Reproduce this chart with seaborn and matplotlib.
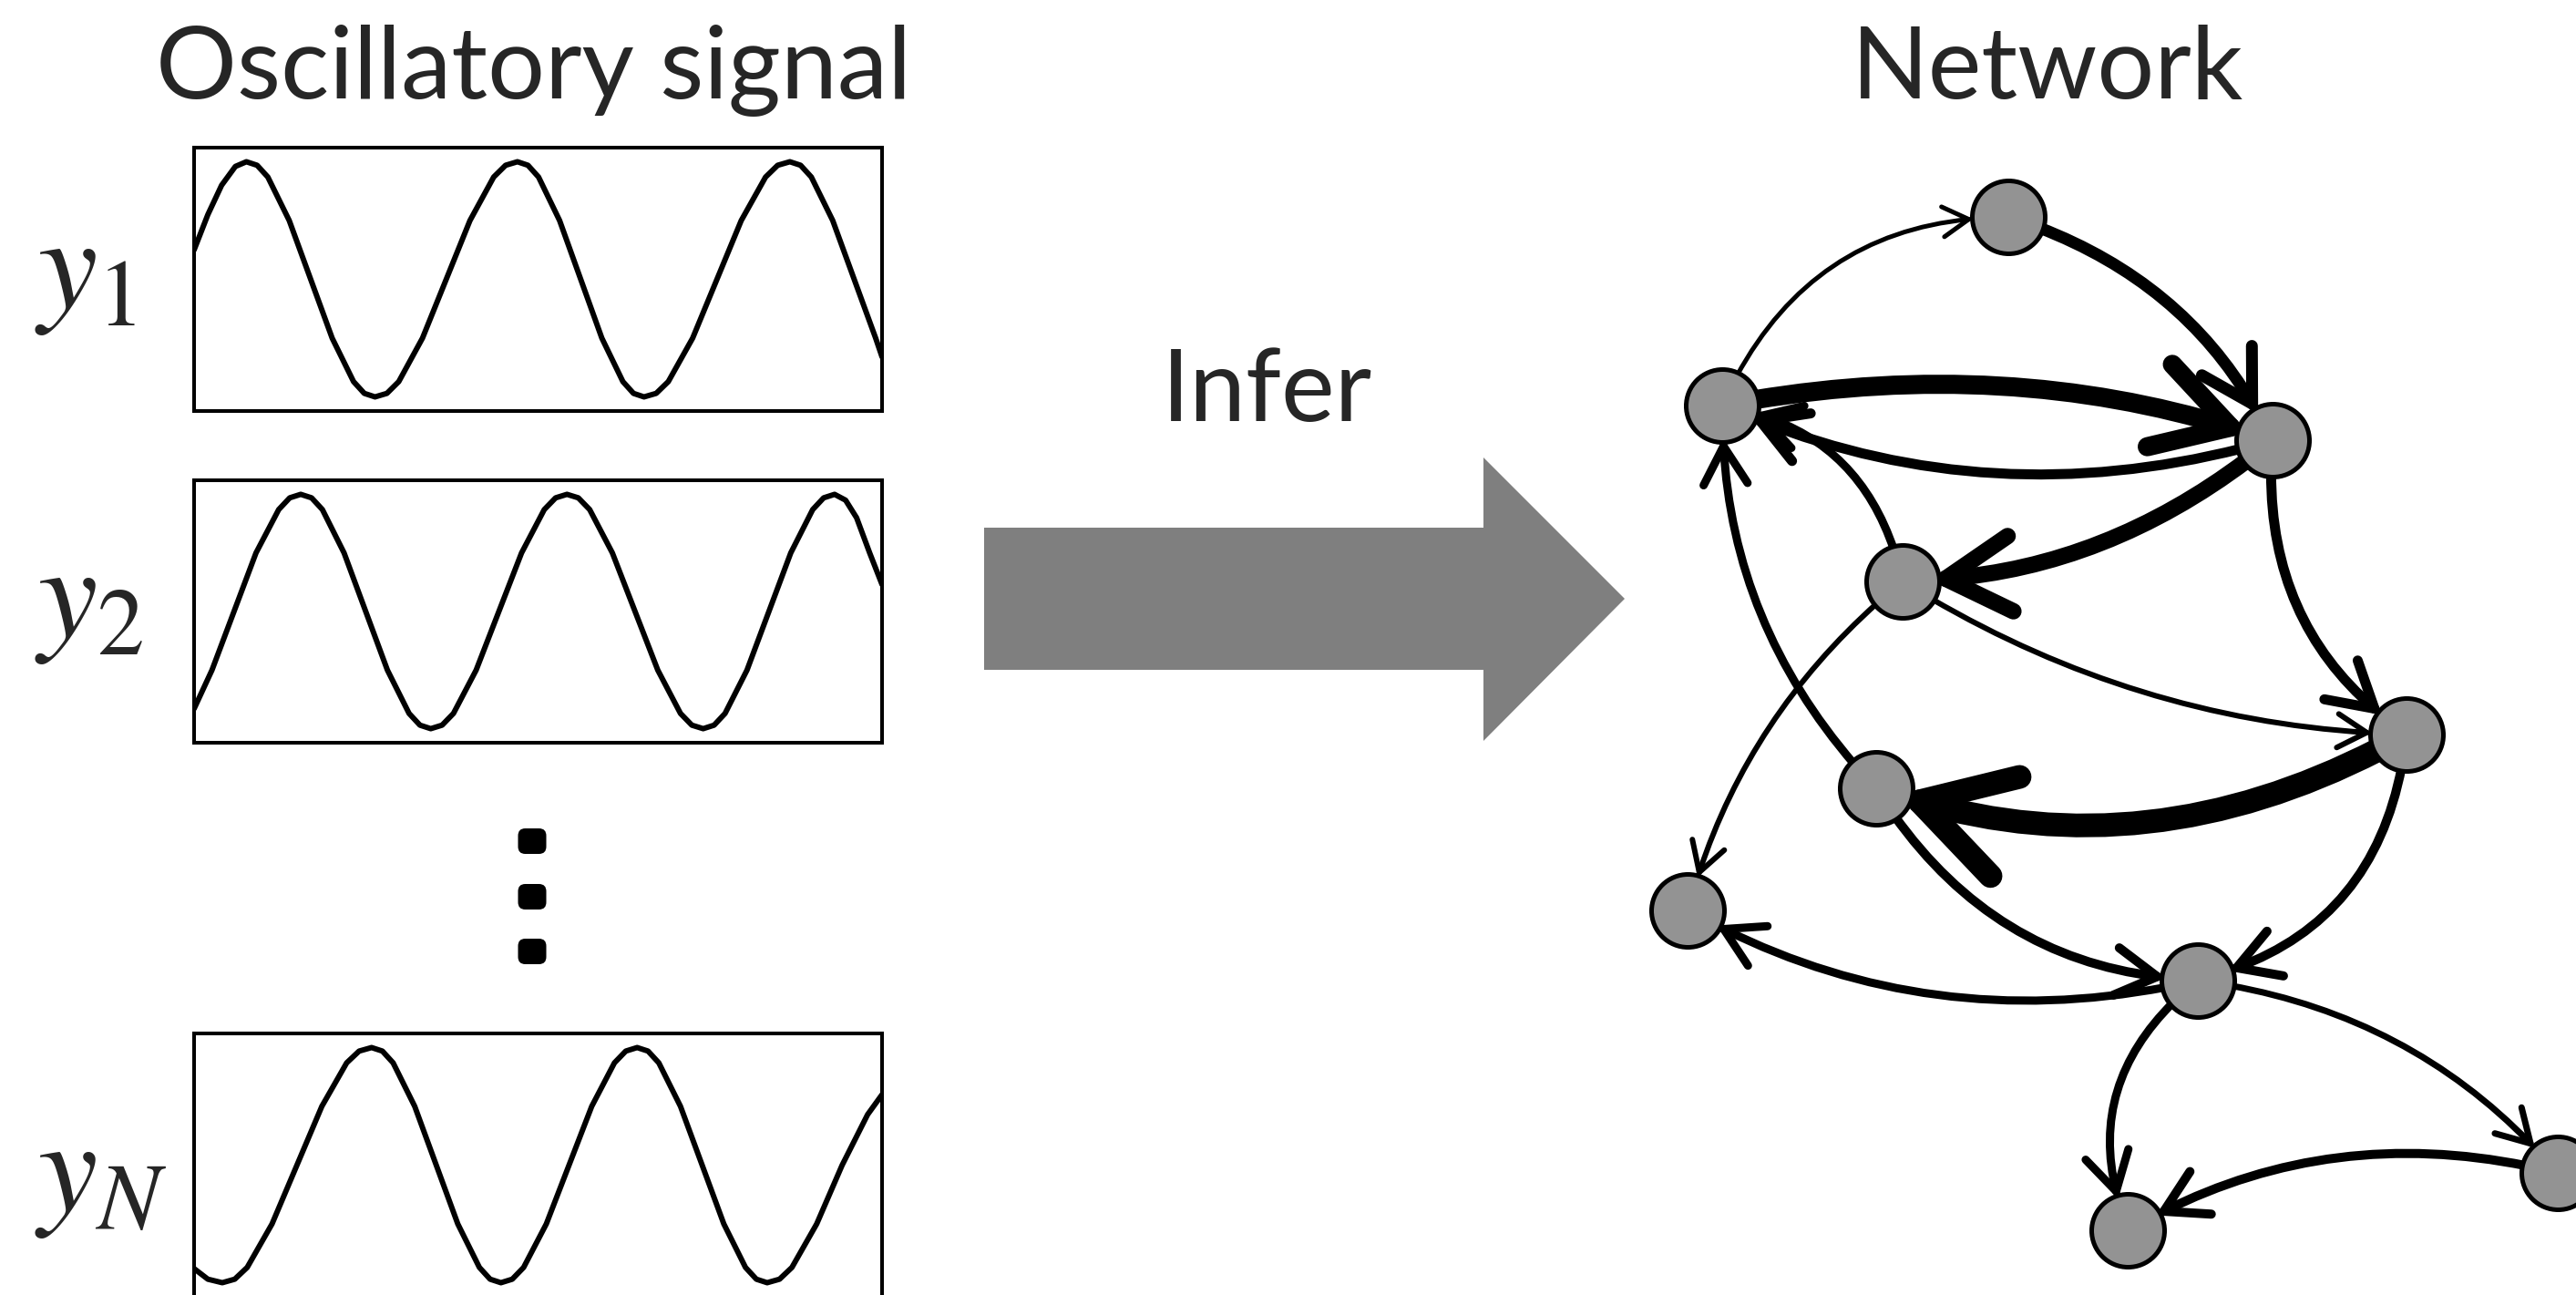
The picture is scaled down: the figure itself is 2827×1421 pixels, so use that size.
import matplotlib
matplotlib.use("Agg")
import matplotlib.pyplot as plt
import pandas as pd
import seaborn as sns
from matplotlib.patches import FancyArrowPatch, Polygon, FancyBboxPatch

W, H = 2827, 1421

# --- oscillatory signals (time 0-100 across the panel, normalised amplitude) ---
y1_t = [0, 2.0, 4.0, 6.0, 7.6,
        9.16, 10.72, 13.83, 16.95, 20.07, 23.18, 24.74, 26.3,
        28.03, 29.75, 33.2, 36.65, 40.1, 43.55, 45.28, 47.0,
        48.53, 50.07, 53.13, 56.2, 59.27, 62.33, 63.87, 65.4,
        67.17, 68.93, 72.47, 76.0, 79.53, 83.07, 84.83, 86.6,
        88.16, 89.72, 92.83, 95.95, 99.07, 100]
y1_v = [0.25, 0.55, 0.80, 0.96, 1.0,
        0.97, 0.87, 0.5, 0.0, -0.5, -0.87, -0.97, -1.0,
        -0.97, -0.87, -0.5, 0.0, 0.5, 0.87, 0.97, 1.0,
        0.97, 0.87, 0.5, 0.0, -0.5, -0.87, -0.97, -1.0,
        -0.97, -0.87, -0.5, 0.0, 0.5, 0.87, 0.97, 1.0,
        0.97, 0.87, 0.5, 0.0, -0.5, -0.66]

y2_t = [0, 2.6, 5.8, 9.0, 12.3, 13.9, 15.5,
        17.08, 18.65, 21.8, 24.95, 28.1, 31.25, 32.83, 34.4,
        36.05, 37.7, 41.0, 44.3, 47.6, 50.9, 52.55, 54.2,
        55.85, 57.5, 60.8, 64.1, 67.4, 70.7, 72.35, 74.0,
        75.59, 77.18, 80.37, 83.55, 86.73, 89.92, 91.51, 93.1,
        94.7, 96.3, 98.2, 100]
y2_v = [-0.83, -0.5, 0.0, 0.5, 0.87, 0.97, 1.0,
        0.97, 0.87, 0.5, 0.0, -0.5, -0.87, -0.97, -1.0,
        -0.97, -0.87, -0.5, 0.0, 0.5, 0.87, 0.97, 1.0,
        0.97, 0.87, 0.5, 0.0, -0.5, -0.87, -0.97, -1.0,
        -0.97, -0.87, -0.5, 0.0, 0.5, 0.87, 0.97, 1.0,
        0.95, 0.8, 0.5, 0.23]

yN_t = [0, 2.0, 4.1,
        5.91, 7.72, 11.33, 14.95, 18.57, 22.18, 23.99, 25.8,
        27.37, 28.93, 32.07, 35.2, 38.33, 41.47, 43.03, 44.6,
        46.25, 47.9, 51.2, 54.5, 57.8, 61.1, 62.75, 64.4,
        65.98, 67.55, 70.7, 73.85, 77.0, 80.15, 81.73, 83.3,
        85.1, 86.9, 90.5, 94.2, 97.9, 100]
yN_v = [-0.88, -0.97, -1.0,
        -0.97, -0.87, -0.5, 0.0, 0.5, 0.87, 0.97, 1.0,
        0.97, 0.87, 0.5, 0.0, -0.5, -0.87, -0.97, -1.0,
        -0.97, -0.87, -0.5, 0.0, 0.5, 0.87, 0.97, 1.0,
        0.97, 0.87, 0.5, 0.0, -0.5, -0.87, -0.97, -1.0,
        -0.97, -0.87, -0.5, 0.0, 0.43, 0.6]

signal_labels = [r"$y_1$", r"$y_2$", r"$y_N$"]

# --- network (pixel coordinates of the picture) ---
node_x = [2204, 1890, 2494, 2088, 2641, 2059, 1852, 2412, 2807, 2335]
node_y = [238, 445, 483, 638, 806, 865, 999, 1076, 1287, 1350]
# node index: 0 A top, 1 B, 2 C, 3 D, 4 E, 5 F, 6 G, 7 H, 8 I, 9 J
edge_src = [1, 0, 1, 2, 3, 5, 2, 3, 2, 3, 4, 5, 4, 7, 7, 7, 8]
edge_dst = [0, 2, 2, 1, 1, 1, 3, 4, 4, 6, 5, 7, 7, 6, 9, 8, 9]
edge_width = [5, 13, 21, 11, 9, 9, 18, 6, 11, 6, 26, 10, 10, 9, 9, 7, 10]  # px
edge_rad = [-0.32, -0.21, -0.13, -0.18, 0.33, -0.2, -0.17, 0.135, 0.28,
            0.16, -0.22, 0.26, -0.34, -0.19, 0.36, -0.19, 0.2]

ellipsis_y = [923, 984, 1044]
ellipsis_x = 584

PX = 72 / 100  # points per pixel at dpi 100


def setup_style():
    sns.set_theme(style="white")
    plt.rcParams['font.family'] = ['Lato', 'DejaVu Sans']
    plt.rcParams['mathtext.fontset'] = 'stix'


def draw_signal(fig, rect, t, v):
    axs = fig.add_axes(rect)
    df = pd.DataFrame({'t': t, 'v': v})
    sns.lineplot(data=df, x='t', y='v', ax=axs, color='black',
                 linewidth=4.3, estimator=None, sort=False)
    axs.set_xlim(0, 100)
    axs.set_ylim(-1.12, 1.12)
    axs.set_xticks([])
    axs.set_yticks([])
    axs.set_xlabel('')
    axs.set_ylabel('')
    axs.set_facecolor('white')
    for sp in axs.spines.values():
        sp.set_visible(True)
        sp.set_color('black')
        sp.set_linewidth(2.9)
    return axs


def main():
    setup_style()
    fig = plt.figure(figsize=(W / 100, H / 100), dpi=100)
    ax = fig.add_axes([0, 0, 1, 1])
    ax.set_xlim(0, W)
    ax.set_ylim(H, 0)
    ax.axis('off')

    # titles
    ax.text(586, 108, "Oscillatory signal", ha='center', va='baseline', fontsize=80)
    ax.text(2247, 108, "Network", ha='center', va='baseline', fontsize=80)
    ax.text(1390, 462, "Infer", ha='center', va='baseline', fontsize=80)

    # signal panels
    panels = [(162, 451), (527, 815), (1134, 1423)]
    label_y = [303, 664, 1294]
    series = [(y1_t, y1_v), (y2_t, y2_v), (yN_t, yN_v)]
    for (top, bot), ly, lab, (t, v) in zip(panels, label_y, signal_labels, series):
        rect = [213 / W, 1 - bot / H, 755 / W, (bot - top) / H]
        draw_signal(fig, rect, t, v)
        ax.text(38, ly, lab, ha='left', va='center', fontsize=106)

    # vertical ellipsis
    for yy in ellipsis_y:
        ax.add_patch(FancyBboxPatch((ellipsis_x - 15.5 + 8, yy - 14 + 8), 31 - 16, 28 - 16,
                                    boxstyle="round,pad=8", fc='black', ec='none'))

    # big grey arrow
    arrow_pts = [(1080, 579), (1628, 579), (1628, 502), (1783, 657),
                 (1628, 813), (1628, 735), (1080, 735)]
    ax.add_patch(Polygon(arrow_pts, closed=True, fc='#7f7f7f', ec='none'))

    # edges
    for s, d, w, r in zip(edge_src, edge_dst, edge_width, edge_rad):
        arm = (12 + 3.3 * w) * PX
        style = f"->,head_length={arm:.1f},head_width={arm * 0.58:.1f}"
        p = FancyArrowPatch((node_x[s], node_y[s]), (node_x[d], node_y[d]),
                            arrowstyle=style, connectionstyle=f"arc3,rad={r}",
                            linewidth=w * PX, color='black', mutation_scale=1,
                            shrinkA=36 * PX, shrinkB=(42 - 0.7 * w) * PX, zorder=2)
        ax.add_patch(p)

    # nodes
    sns.scatterplot(x=node_x, y=node_y, ax=ax, s=(80 * PX) ** 2, color='#939393',
                    edgecolor='black', linewidth=5 * PX, zorder=3, legend=False)
    ax.set_xlim(0, W)
    ax.set_ylim(H, 0)

    fig.savefig('out.png', dpi=100)
    plt.close(fig)


if __name__ == "__main__":
    main()
